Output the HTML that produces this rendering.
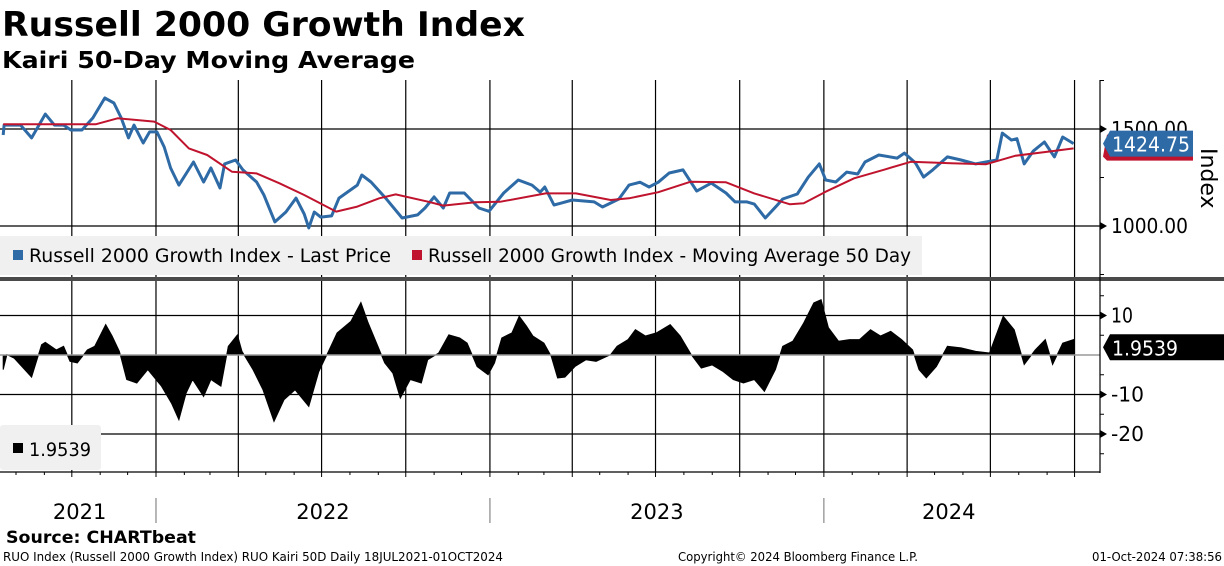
<!DOCTYPE html>
<html><head><meta charset="utf-8"><style>
html,body{margin:0;padding:0;background:#fff;}
svg{display:block;font-family:"DejaVu Sans","Liberation Sans",sans-serif;}
</style></head><body>
<svg id="chart" width="1224" height="566" viewBox="0 0 1224 566" xmlns="http://www.w3.org/2000/svg">
<text x="2" y="36" font-size="34" font-weight="bold" textLength="523" lengthAdjust="spacingAndGlyphs">Russell 2000 Growth Index</text>
<text x="2" y="68" font-size="23" font-weight="bold" textLength="413" lengthAdjust="spacingAndGlyphs">Kairi 50-Day Moving Average</text>
<g id="grid"></g>
<defs><clipPath id="upclip"><rect x="0" y="80" width="1100" height="197"/></clipPath><clipPath id="loclip"><rect x="0" y="283" width="1100" height="189"/></clipPath></defs>
<g id="kairi" clip-path="url(#loclip)"></g>
<g id="upper" clip-path="url(#upclip)"></g>
<rect x="0" y="277" width="1224" height="4" fill="#4a4a4a"/>
<g>
<rect x="0" y="236" width="922" height="39" fill="#f0f0f0"/>
<rect x="13" y="250" width="10" height="10" fill="#2e6aa5"/>
<text x="29" y="262" font-size="19" textLength="362" lengthAdjust="spacingAndGlyphs">Russell 2000 Growth Index - Last Price</text>
<rect x="412" y="250" width="10" height="10" fill="#c0142e"/>
<text x="428" y="262" font-size="19" textLength="483" lengthAdjust="spacingAndGlyphs">Russell 2000 Growth Index - Moving Average 50 Day</text>
</g>
<g>
<rect x="0" y="425" width="101" height="45" rx="3" fill="#f0f0f0"/>
<rect x="13" y="443" width="10" height="10" fill="#000"/>
<text x="29" y="456" font-size="19" textLength="62" lengthAdjust="spacingAndGlyphs">1.9539</text>
</g>
<g id="axes"></g>
<text x="6" y="543" font-size="17" font-weight="bold" textLength="190" lengthAdjust="spacingAndGlyphs">Source: CHARTbeat</text>
<text x="3" y="561" font-size="12" textLength="500" lengthAdjust="spacingAndGlyphs">RUO Index (Russell 2000 Growth Index) RUO Kairi 50D  Daily 18JUL2021-01OCT2024</text>
<text x="678" y="561" font-size="12" textLength="240" lengthAdjust="spacingAndGlyphs">Copyright© 2024 Bloomberg Finance L.P.</text>
<text x="1092" y="561" font-size="12" textLength="130" lengthAdjust="spacingAndGlyphs">01-Oct-2024 07:38:56</text>
</svg>
<script>
// days since 18 Jul 2021
const priceDays=[0,1,19,31,46,56,66,74,86,98,111,121,129,137,143,153,160,168,176,183,192,208,219,227,237,242,254,262,277,285,297,309,320,329,334,340,347,359,367,387,392,402,418,436,453,461,471,481,488,504,520,531,547,563,578,587,592,602,610,622,646,655,673,684,696,706,716,728,743,758,774,790,800,813,821,833,845,852,868,880,892,899,910,922,934,942,957,977,985,997,1006,1016,1032,1047,1063,1086,1092,1102,1108,1116,1126,1138,1149,1158,1170];
const priceVals=[1469,1520,1520,1454,1577,1520,1520,1495,1495,1557,1660,1634,1557,1454,1520,1428,1485,1485,1407,1299,1211,1330,1227,1299,1196,1320,1340,1289,1227,1160,1021,1072,1144,1062,990,1072,1046,1052,1144,1211,1263,1227,1144,1041,1057,1093,1150,1093,1170,1170,1093,1076,1170,1237,1211,1175,1201,1108,1118,1134,1124,1098,1139,1211,1226,1201,1226,1273,1289,1180,1221,1170,1124,1124,1113,1041,1102,1139,1165,1252,1320,1237,1227,1278,1268,1330,1366,1350,1376,1325,1252,1289,1356,1340,1320,1340,1479,1443,1450,1320,1387,1433,1356,1459,1424.75];
const maDays=[0,101,125,165,183,203,223,250,277,302,329,364,387,411,429,465,481,516,543,593,626,664,684,716,751,790,821,860,875,899,930,962,992,1036,1074,1106,1149,1170];
const maVals=[1524,1524,1555,1538,1495,1400,1366,1280,1271,1220,1160,1074,1100,1143,1163,1125,1105,1122,1125,1168,1168,1134,1143,1174,1228,1225,1168,1112,1117,1177,1246,1289,1331,1323,1318,1362,1387,1400];
const kairiDays=[0,4,12,31,42,46,58,66,73,81,92,100,112,119,127,135,146,158,173,184,192,200,207,219,227,238,246,256,261,273,284,296,307,319,334,345,353,365,380,391,399,411,417,426,434,445,457,464,476,487,499,507,518,530,537,545,556,564,572,579,591,599,606,614,625,637,648,664,671,683,691,702,714,729,740,752,763,775,787,798,809,821,832,844,852,863,875,886,894,902,913,925,936,948,959,970,982,994,1001,1009,1020,1032,1047,1063,1078,1089,1093,1105,1116,1128,1139,1147,1158,1170];
const kairiVals=[-3.7,0.1,-0.8,-5.6,2.6,3.2,1.3,2.2,-1.6,-2.0,1.3,2.2,7.7,4.8,0.9,-6.2,-7.1,-3.7,-7.9,-12.2,-16.4,-9.6,-6.2,-10.5,-6.2,-7.9,2.2,5.1,0.9,-3.7,-8.8,-16.8,-11.3,-8.8,-13.0,-4.2,-0.3,5.6,8.5,13.3,8.1,1.4,-2.0,-4.6,-10.9,-6.2,-7.1,-1.2,0.5,5.1,4.3,3.0,-2.9,-5.0,-2.0,4.3,5.6,9.8,7.3,4.8,3.0,-0.3,-5.8,-5.6,-2.9,-1.2,-1.6,0.1,2.2,3.9,6.4,4.8,5.6,7.7,4.8,0.1,-3.3,-2.5,-4.2,-6.2,-7.1,-6.2,-9.2,-3.7,2.2,3.5,8.1,13.2,14.0,6.9,3.5,3.9,3.9,6.4,4.8,6.0,3.9,1.3,-3.7,-5.8,-2.9,2.2,1.8,0.9,0.5,7.3,9.8,6.4,-2.4,1.3,3.9,-2.4,3.0,3.9,1.9539];
const priceTicks=[1500,1000];
const priceTickLabels=["1500.00","1000.00"];
const kairiTicks=[10,-10,-20];
const kairiTickLabels=["10","-10","-20"];
const yearLabels=["2021","2022","2023","2024"];

const NS="http://www.w3.org/2000/svg";
const X=d=>3.2+d*0.9149;
const YP=v=>129+(1500-v)*0.194;
const YK=v=>355-v*3.95;
const start=Date.UTC(2021,6,18);
const dayOf=(y,m,d)=>(Date.UTC(y,m,d)-start)/86400000;
function el(tag,attrs,parent){const e=document.createElementNS(NS,tag);for(const k in attrs)e.setAttribute(k,attrs[k]);parent.appendChild(e);return e;}
const grid=document.getElementById('grid'),axes=document.getElementById('axes');
for(let y=2021;y<=2024;y++)for(let m=0;m<12;m+=3){const d=dayOf(y,m,1);if(d<0||d>1175)continue;
 const l=el('line',{x1:X(d),x2:X(d),y1:80,y2:472,stroke:'#000','stroke-width':1.2},grid);
 
 }
priceTicks.forEach((v,i)=>{const l=el('line',{x1:0,x2:1100,y1:YP(v),y2:YP(v),stroke:'#000','stroke-width':1.2},grid);
 
 });
kairiTicks.forEach(v=>{const l=el('line',{x1:0,x2:1100,y1:YK(v),y2:YK(v),stroke:'#000','stroke-width':1.2},grid);
 
 });
const kg=document.getElementById('kairi');
let kd='M'+X(kairiDays[0])+','+YK(0);
kairiDays.forEach((d,i)=>{kd+=' L'+X(d).toFixed(1)+','+YK(kairiVals[i]).toFixed(1);});
kd+=' L'+X(kairiDays[kairiDays.length-1])+','+YK(0)+' Z';
const ka=el('path',{d:kd,fill:'#000',stroke:'#000','stroke-width':1},kg);


const zl=el('line',{x1:0,x2:1100,y1:YK(0),y2:YK(0),stroke:'#999','stroke-width':1.5},kg);


const up=document.getElementById('upper');
const pp=el('polyline',{points:priceDays.map((d,i)=>X(d).toFixed(1)+','+YP(priceVals[i]).toFixed(1)).join(' '),fill:'none',stroke:'#2e6aa5','stroke-width':3,'stroke-linejoin':'round'},up);


const mp=el('polyline',{points:maDays.map((d,i)=>X(d).toFixed(1)+','+YP(maVals[i]).toFixed(1)).join(' '),fill:'none',stroke:'#c0142e','stroke-width':2,'stroke-linejoin':'round'},up);


const ax=el('line',{x1:1100,x2:1100,y1:80,y2:473,stroke:'#000','stroke-width':1.2},axes);


const bx=el('line',{x1:0,x2:1100,y1:472,y2:472,stroke:'#000','stroke-width':1.2},axes);


[1750,1250,750].forEach(v=>{const y=YP(v);if(y>80&&y<276){const t=el('line',{x1:1100,x2:1104,y1:y,y2:y,stroke:'#000'},axes);
 
 }});
[5,-5,-15,-25,15].forEach(v=>{const y=YK(v);if(y>284&&y<471){const t=el('line',{x1:1100,x2:1104,y1:y,y2:y,stroke:'#000'},axes);
 
 }});
function tickLabel(y,txt,name){
 const a=el('path',{d:`M1100,${y-4} L1107,${y} L1100,${y+4} Z`,fill:'#000'},axes);
 
 
 const t=el('text',{x:1111,y:y+7,'font-size':20,textLength:txt.length*11,lengthAdjust:'spacingAndGlyphs'},axes);t.textContent=txt;
 
 }
priceTicks.forEach((v,i)=>tickLabel(YP(v),priceTickLabels[i],'price-tick-label'));
kairiTicks.forEach((v,i)=>tickLabel(YK(v),kairiTickLabels[i],'kairi-tick-label'));
const lp=priceVals[priceVals.length-1],ly=YP(lp);
const tr=el('path',{d:`M1107,${ly-9} L1193,${ly-9} L1193,${ly+17} L1107,${ly+17} L1103,${ly+13} Z`,fill:'#c0142e'},axes);


const tb=el('path',{d:`M1110,${ly-13} L1193,${ly-13} L1193,${ly+13} L1110,${ly+13} L1103,${ly} Z`,fill:'#2e6aa5'},axes);


const tt=el('text',{x:1112,y:ly+8,'font-size':20,fill:'#fff',textLength:78,lengthAdjust:'spacingAndGlyphs'},axes);tt.textContent=lp.toFixed(2);


const lk=kairiVals[kairiVals.length-1],lky=YK(lk);
const kt=el('path',{d:`M1110,${lky-13} L1224,${lky-13} L1224,${lky+13} L1110,${lky+13} L1103,${lky} Z`,fill:'#000'},axes);


const ktt=el('text',{x:1112,y:lky+8,'font-size':20,fill:'#fff',textLength:66,lengthAdjust:'spacingAndGlyphs'},axes);ktt.textContent=lk.toFixed(4);


const it=el('text',{x:0,y:0,'font-size':22,transform:'translate(1201,148) rotate(90)'},axes);it.textContent='Index';


for(let y=2021;y<=2024;y++)for(let m=0;m<12;m++){const d=dayOf(y,m,1);if(d<0||d>1175)continue;
 const q=m%3===0;const t=el('line',{x1:X(d),x2:X(d),y1:472,y2:q?477:475,stroke:'#000'},axes);
 
 }
[2022,2023,2024].forEach(y=>{const t=el('line',{x1:X(dayOf(y,0,1)),x2:X(dayOf(y,0,1)),y1:498,y2:523,stroke:'#888','stroke-width':1.2},axes);
 
 });
yearLabels.forEach((lab,i)=>{const yr=+lab;let a=Math.max(0,dayOf(yr,0,1)),b=Math.min(1170,dayOf(yr+1,0,1));
 const t=el('text',{x:(X(a)+X(b))/2,y:519,'font-size':21,'text-anchor':'middle'},axes);t.textContent=lab;
 
 });
</script>
</body></html>
